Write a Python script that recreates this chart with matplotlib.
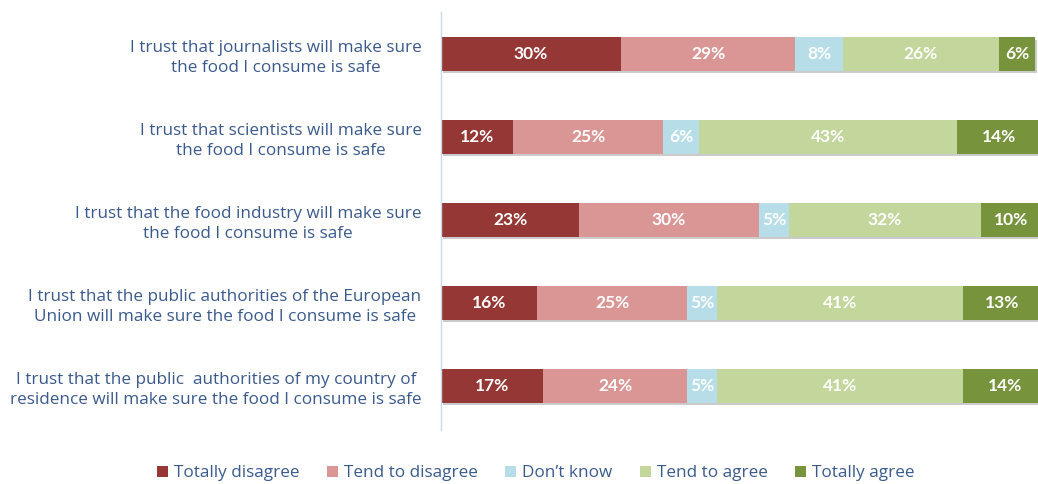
import matplotlib.pyplot as plt
import matplotlib.patheffects as pe
from matplotlib.patches import Patch

statements = [
    "I trust that journalists will make sure\nthe food I consume is safe",
    "I trust that scientists will make sure\nthe food I consume is safe",
    "I trust that the food industry will make sure\nthe food I consume is safe",
    "I trust that the public authorities of the European\nUnion will make sure the food I consume is safe",
    "I trust that the public  authorities of my country of\nresidence will make sure the food I consume is safe",
]
answers = ["Totally disagree", "Tend to disagree", "Don\u2019t know", "Tend to agree", "Totally agree"]
totally_disagree = [30, 12, 23, 16, 17]
tend_disagree = [29, 25, 30, 25, 24]
dont_know = [8, 6, 5, 5, 5]
tend_agree = [26, 43, 32, 41, 41]
totally_agree = [6, 14, 10, 13, 14]

series = [totally_disagree, tend_disagree, dont_know, tend_agree, totally_agree]
colors = ["#953735", "#D99694", "#B7DEE8", "#C3D69B", "#77933C"]
text_col = "#3A5A8C"

plt.rcParams['font.family'] = ['Open Sans', 'DejaVu Sans']

fig = plt.figure(figsize=(10.38, 4.84), dpi=100)
ax = fig.add_axes([441/1038, 1-430/484, 597/1038, 418/484])

ypos = list(range(len(statements)))
left = [0] * len(statements)
shadow = [pe.SimplePatchShadow(offset=(1.5, -2), shadow_rgbFace="#999999", alpha=0.5), pe.Normal()]
for vals, col in zip(series, colors):
    bars = ax.barh(ypos, vals, left=left, height=0.4, color=col, edgecolor="none")
    for b in bars:
        b.set_path_effects(shadow)
    for y, v, l in zip(ypos, vals, left):
        ax.text(l + v / 2, y, f"{v}%", ha="center", va="center", color="white",
                fontsize=12.5, fontweight="bold", family=["Lato", "DejaVu Sans"])
    left = [l + v for l, v in zip(left, vals)]

ax.set_xlim(0, 99.5)
ax.set_ylim(4.53, -0.506)
ax.set_yticks(ypos)
ax.set_yticklabels(statements, fontsize=12.3, color=text_col, multialignment="center",
                   linespacing=1.3)
ax.tick_params(axis="y", length=0, pad=14)
ax.set_xticks([])
for s in ["top", "right", "bottom"]:
    ax.spines[s].set_visible(False)
ax.spines["left"].set_color("#C5D9F1")
ax.spines["left"].set_linewidth(1)

handles = [Patch(facecolor=c, edgecolor="none") for c in colors]
leg = fig.legend(handles, answers, loc="center", bbox_to_anchor=(0.516, 0.022), ncol=5,
                 frameon=False, fontsize=12.3, handlelength=0.65, handleheight=0.65,
                 handletextpad=0.35, columnspacing=1.6)
for t in leg.get_texts():
    t.set_color(text_col)

fig.savefig("out.png", dpi=100)
